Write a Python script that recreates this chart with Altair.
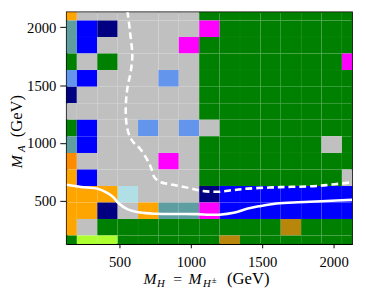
import altair as alt
import pandas as pd

# grid centres (GeV)
mh_grid = [130, 273, 416, 559, 701, 844, 987, 1130, 1273, 1416, 1559, 1701, 1844, 1987, 2130]
ma_grid = [130, 273, 416, 559, 701, 844, 987, 1130, 1273, 1416, 1559, 1701, 1844, 1987, 2130]

# cell categories, rows from top (M_A = 2130) to bottom (M_A = 130)
rows_top_to_bottom = [
    "OSSSSSSGGGGGGGG",
    "TBNSSSSMGGGGGGG",
    "TBSSSSMGGGGGGGG",
    "GSGSSSSGGGGGGGM",
    "CBSSSCSGGGGGGGG",
    "NSSSSSSGGGGGGGG",
    "SSSSSSSGGGGGGGG",
    "GBSSCSCSGGGGGGG",
    "TBSSSSSGGGGGGSG",
    "DSSSSMSGGGGGGGG",
    "OBSSSSSGGGGGGGS",
    "OOOPSSSNBBBBBBB",
    "OONSOTTMBBBBBBB",
    "OSGGGGGGGGGKGGG",
    "GYYGGGGGKGGGGGG",
]

category_codes = ["O", "D", "B", "N", "G", "S", "M", "C", "T", "P", "Y", "K"]
category_colors = ["#FFA500", "#FF8C00", "#0000FF", "#000080", "#008000", "#C0C0C0",
                   "#FF00FF", "#6495ED", "#5F9EA0", "#B0E0E6", "#ADFF2F", "#B8860B"]

# white curves
solid_mh = [130, 230, 345, 420, 460, 490, 555, 645, 760, 900, 1040, 1130, 1200, 1300, 1400, 1480, 1600, 1750, 1950, 2130]
solid_ma = [640, 622, 607, 566, 530, 485, 430, 400, 390, 388, 387, 382, 382, 398, 435, 455, 478, 490, 500, 510]

dashed_mh = [556, 575, 590, 579, 556, 545, 545, 551, 570, 597, 643, 688, 722, 746, 791, 876, 989, 1081, 1190, 1300, 1400, 1628, 1856, 1993, 2130]
dashed_ma = [2140, 1950, 1756, 1617, 1479, 1340, 1230, 1150, 1064, 1008, 953, 870, 786, 703, 662, 640, 612, 587, 580, 595, 607, 620, 628, 643, 662]

tick_values = [500, 1000, 1500, 2000]


def edges(c):
    mids = [(a + b) / 2 for a, b in zip(c[:-1], c[1:])]
    lo = [2 * c[0] - mids[0]] + mids
    hi = mids + [2 * c[-1] - mids[-1]]
    return lo, hi


xlo, xhi = edges(mh_grid)
ylo, yhi = edges(ma_grid)
recs = []
n = len(rows_top_to_bottom)
for r, row in enumerate(rows_top_to_bottom):
    j = n - 1 - r
    for i, code in enumerate(row):
        recs.append({"x0": xlo[i], "x1": xhi[i], "y0": ylo[j], "y1": yhi[j], "cat": code})
cells = pd.DataFrame(recs)

solid_df = pd.DataFrame({"mh": solid_mh, "ma": solid_ma, "idx": range(len(solid_mh))})
dashed_df = pd.DataFrame({"mh": dashed_mh, "ma": dashed_ma, "idx": range(len(dashed_mh))})

FONT = "Liberation Serif"
sx = alt.Scale(domain=[130, 2130], nice=False, zero=False)
sy = alt.Scale(domain=[130, 2130], nice=False, zero=False)

axis_common = dict(values=tick_values, format="d", title=None, grid=False,
                   labelFont=FONT, labelFontSize=15, labelFontWeight="normal", labelColor="black",
                   tickColor="black", domainColor="black", domainWidth=1.2, tickWidth=1)

rect = alt.Chart(cells).mark_rect(clip=True, stroke="white", strokeOpacity=0.05, strokeWidth=0.6).encode(
    x=alt.X("x0:Q", scale=sx, axis=alt.Axis(tickSize=4, labelPadding=7, **axis_common)),
    x2="x1:Q",
    y=alt.Y("y0:Q", scale=sy, axis=alt.Axis(tickSize=7, labelPadding=4, **axis_common)),
    y2="y1:Q",
    color=alt.Color("cat:N", scale=alt.Scale(domain=category_codes, range=category_colors), legend=None),
)

solid = alt.Chart(solid_df).mark_line(color="white", strokeWidth=2.6, interpolate="catmull-rom", clip=True).encode(
    x=alt.X("mh:Q", scale=sx), y=alt.Y("ma:Q", scale=sy), order="idx:Q")
dashed = alt.Chart(dashed_df).mark_line(color="white", strokeWidth=2.6, strokeDash=[7, 4],
                                        interpolate="catmull-rom", clip=True).encode(
    x=alt.X("mh:Q", scale=sx), y=alt.Y("ma:Q", scale=sy), order="idx:Q")

one = pd.DataFrame({"a": [0]})


def txt(s, x, y, size, style="normal", angle=0):
    kw = dict(text=s, font=FONT, fontSize=size, fontStyle=style, align="left",
              baseline="alphabetic", color="black")
    if angle:
        kw["angle"] = angle
    return alt.Chart(one).mark_text(**kw).encode(x=alt.value(x), y=alt.value(y))


titles = [
    txt("M", 78.5, 278.5, 16, "italic"),
    txt("H", 92.5, 281.5, 11, "italic"),
    txt("=", 109, 278.5, 16),
    txt("M", 124.5, 278.5, 16, "italic"),
    txt("H", 139.5, 281.5, 11, "italic"),
    txt("±", 148.5, 277, 9),
    txt("(GeV)", 164, 278.5, 17),
    txt("M", -45.5, 159.5, 16, "italic", 270),
    txt("A", -42.8, 143, 11, "italic", 270),
    txt("(GeV)", -45.5, 128, 17, angle=270),
]

chart = alt.layer(rect, solid, dashed, *titles).properties(
    width=292, height=237,
    autosize=alt.AutoSizeParams(type="none"),
    padding={"left": 60, "top": 1, "right": 6, "bottom": 50},
).configure_view(stroke="black", strokeWidth=1.5)

chart.save("out.html", embed_options={"renderer": "svg", "actions": False})
